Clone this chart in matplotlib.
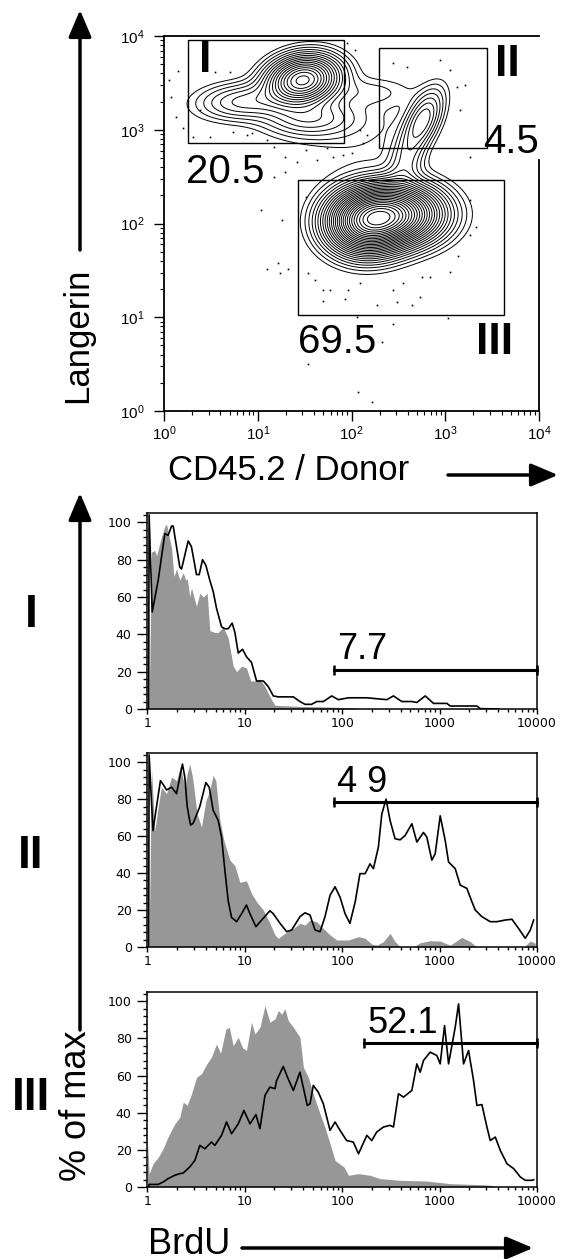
import numpy as np
import matplotlib
matplotlib.use('Agg')
import matplotlib.pyplot as plt
from matplotlib.patches import Rectangle, FancyArrowPatch
from matplotlib.ticker import FixedLocator, LogLocator, MultipleLocator, NullFormatter

W, H = 565, 1259

### Langerin / CD45.2 populations (log10 centre, log10 spread, correlation, weight)
pop_x   = [1.48, 0.85, 1.55, 2.76, 2.58, 2.45, 2.15, 2.00, 2.20]
pop_y   = [3.53, 3.30, 3.12, 3.10, 2.65, 2.10, 2.00, 3.00, 3.40]
pop_sx  = [0.22, 0.30, 0.30, 0.13, 0.12, 0.29, 0.24, 0.50, 0.30]
pop_sy  = [0.15, 0.12, 0.12, 0.20, 0.20, 0.18, 0.19, 0.35, 0.10]
pop_rho = [0.15, 0.10, 0.00, 0.55, 0.30, 0.00, 0.00, 0.00, 0.00]
pop_w   = [15.0, 3.0, 2.5, 2.5, 1.2, 38.0, 28.0, 2.0, 0.6]

### outlier events (CD45.2, Langerin)
dot_cd45 = [1.12, 1.41, 1.20, 1.35, 1.58, 2.04, 2.4, 3.1, 3.5, 5.0, 5.5, 7.6, 8.7,
            12.6, 14.8, 19.5, 26, 19.5, 14.8, 18.2, 10.7, 33, 43, 55, 63, 81, 102,
            132, 123, 145, 89, 110, 275, 390, 870, 1120, 1320, 1620, 1450, 1820,
            2140, 1820, 33, 12.6, 16.6, 17.4, 20.9, 34.7, 40.7, 50.1, 58.9, 50.1,
            85, 91, 123, 186, 275, 302, 355, 437, 537, 562, 692, 1120, 1380, 1820,
            115, 275, 1070, 214, 34.7, 117, 166]
dot_lang = [3390, 4270, 2240, 1380, 1050, 830, 1620, 830, 4170, 4170, 950, 870, 930,
            776, 660, 513, 457, 355, 316, 110, 138, 603, 479, 631, 513, 537, 562,
            724, 1000, 870, 8510, 7080, 5130, 4680, 5500, 4370, 2880, 3020, 1620,
            513, 91, 178, 190, 32.4, 38, 29.5, 32.4, 29.5, 25, 19.5, 19.5, 14.8,
            15.8, 19.5, 23.4, 13.5, 19.5, 14.5, 23.4, 13.5, 16.6, 26.9, 26.9, 30.2,
            44.7, 75.9, 10, 8.5, 9.8, 5.5, 3.2, 1.6, 1.26]

### gates: CD45.2 range, Langerin range, frequency
gate_name = ['I', 'II', 'III']
gate_x0 = [1.8, 196, 27]
gate_x1 = [83, 2800, 4240]
gate_y0 = [720, 640, 10.6]
gate_y1 = [9060, 7460, 290]
gate_pct = ['20.5', '4.5', '69.5']

### BrdU histograms (intensity, % of max); ctrl = grey filled, brdu = black line
h1_ctrl_x = [1.04, 1.10, 1.19, 1.24, 1.39, 1.51, 1.57, 1.63, 1.77, 1.87, 1.99, 2.15, 2.33,
             2.48, 2.56, 2.72, 2.83, 3.19, 3.45, 3.74, 4.11, 4.37, 4.92, 5.33, 6.00, 6.75,
             7.60, 8.23, 9.26, 10.4, 11.5, 12.7, 14.3, 16.1, 18.8, 20.4, 36.8, 81.2, 141, 147]
h1_ctrl_y = [0, 84, 85, 82, 92, 98, 99, 95, 86, 71, 75, 69, 73,
             69, 70, 60, 65, 55, 62, 60, 62, 42, 41, 41, 44, 38,
             23, 20, 23, 22, 15, 15, 16, 12, 5, 2, 1.4, 1, 0.5, 0]
h1_brdu_x = [1.03, 1.04, 1.12, 1.29, 1.51, 1.63, 1.77, 1.84, 2.15, 2.24, 2.62, 2.83, 3.19,
             3.40, 3.68, 3.98, 4.37, 4.73, 5.12, 5.77, 6.24, 6.75, 7.42, 7.91, 8.56, 9.48,
             10.4, 11.7, 13.2, 15.5, 17.4, 19.6, 22.1, 31.5, 36.8, 41.5, 48.5, 54.7, 64.0,
             78.0, 91.3, 116, 152, 179, 226, 287, 336, 409, 519, 584, 711, 866, 1188, 1285,
             2415, 2614, 4036]
h1_brdu_y = [0, 104, 52, 69, 94, 93, 98, 98, 76, 75, 90, 87, 72,
             72, 80, 77, 69, 63, 54, 44, 43, 43, 46, 41, 30, 32,
             28, 25, 15, 15, 12, 7, 6.5, 6.5, 4, 2.5, 2.5, 4, 4,
             7, 5, 6, 6, 6, 5.5, 5, 7, 4, 4, 3.5, 7, 3, 3, 1.6,
             1.6, 0.2, 0]

h2_ctrl_x = [1.04, 1.10, 1.19, 1.29, 1.39, 1.57, 1.77, 1.99, 2.18, 2.42, 2.56, 2.72, 2.90,
             3.24, 3.59, 3.98, 4.37, 4.73, 5.04, 5.54, 6.09, 7.02, 7.91, 8.90, 10.4, 11.7,
             13.2, 15.5, 18.1, 20.4, 22.1, 25.8, 31.5, 36.8, 41.5, 46.7, 54.7, 64.0, 75.0,
             87.8, 116, 147, 172, 201, 226, 265, 310, 349, 393, 540, 632, 800, 1014, 1285,
             1694, 2062, 2415, 7290, 8540, 9610]
h2_ctrl_y = [0, 97, 63, 76, 86.5, 83, 92, 90, 98, 86.5, 94, 99, 92,
             72, 65, 79, 85, 93, 90, 68.5, 57.7, 47, 44, 35, 35.8, 29,
             24.5, 20, 12.8, 6.5, 4.7, 7.4, 10, 12.8, 11.9, 14.6, 13.7, 10, 6.5,
             3.8, 3.8, 5.6, 4.7, 1.6, 1, 2.9, 7.4, 2.9, 0.2, 0, 2.3, 3.4, 3.2, 1,
             5.2, 2.9, 0, 0, 3.2, 2]
h2_brdu_x = [1.03, 1.04, 1.14, 1.24, 1.36, 1.45, 1.57, 1.77, 1.99, 2.29, 2.42, 2.56, 2.77,
             2.95, 3.45, 3.98, 4.31, 4.73, 5.33, 5.77, 6.24, 6.75, 7.31, 8.23, 9.26, 10.4,
             11.3, 13.0, 14.9, 18.1, 19.6, 23.0, 26.9, 30.3, 36.8, 41.5, 46.7, 52.6, 59.2,
             66.6, 75.0, 84.4, 95.0, 107, 120, 136, 152, 172, 193, 209, 235, 255, 282, 310,
             349, 393, 443, 519, 584, 683, 739, 832, 901, 1014, 1141, 1236, 1446, 1628, 1906,
             2146, 2322, 2718, 3311, 3878, 4723, 5530, 6475, 7580, 8540, 9240]
h2_brdu_y = [0, 104, 63, 76, 90, 88, 85, 86.5, 83, 99, 92, 76, 66,
             67, 76, 89, 86.5, 74, 68.5, 59.5, 41.5, 25, 16, 13.7, 18, 22.7,
             18, 11, 14.6, 19.6, 18, 12.8, 8.3, 9.2, 16.4, 18.5, 17.3, 9.2, 8.3,
             16.4, 28, 32.6, 27, 18, 12.8, 24.5, 39.7, 39.7, 45, 42.4, 54, 72, 80, 68.5,
             58.6, 58, 60.4, 66.7, 56.8, 62, 59.5, 47, 50.5, 71, 57.7, 46, 42.4, 33.5, 31.7,
             24.5, 20, 16.4, 13.7, 13.7, 14.6, 15, 10, 4.7, 9.2, 14.6]

h3_ctrl_x = [1.00, 1.04, 1.14, 1.29, 1.45, 1.63, 1.91, 2.15, 2.33, 2.56, 2.83, 3.19, 3.59,
             4.04, 4.55, 5.12, 5.63, 6.39, 6.92, 7.60, 8.56, 9.48, 10.4, 11.7, 12.7, 14.3,
             16.1, 18.1, 20.4, 22.1, 23.9, 25.8, 27.9, 31.5, 36.8, 39.9, 44.9, 50.5, 59.2,
             66.6, 75.0, 84.4, 104, 116, 147, 193, 245, 393, 739, 1285, 2830, 3446, 3584]
h3_ctrl_y = [25, 7, 12.5, 16, 20.6, 27, 34, 37.6, 45.7, 44, 50, 59, 61,
             66, 70, 77, 72, 85, 86, 76, 80.6, 75, 73.5, 88.7, 82.4, 86,
             97.7, 88.7, 90.5, 95, 93, 96, 89.6, 86, 80.6, 64.5, 59, 50, 39.4,
             32, 23.3, 14.3, 10.8, 6.3, 7.2, 6.3, 4.5, 3.6, 3.2, 1.8, 1.2, 0.9, 0]
h3_brdu_x = [1.03, 1.04, 1.29, 1.45, 1.63, 1.91, 2.15, 2.33, 2.72, 3.07, 3.45, 3.89, 4.55,
             4.92, 5.77, 6.49, 7.31, 8.56, 9.79, 11.3, 13.0, 14.3, 16.1, 18.1, 20.4, 21.2,
             24.8, 27.9, 31.5, 36.8, 43.8, 46.7, 50.5, 56.9, 64.0, 75.0, 84.4, 95.0, 111,
             130, 147, 179, 201, 226, 265, 310, 336, 378, 426, 519, 584, 632, 683, 800, 937,
             1014, 1124, 1236, 1446, 1565, 1762, 1983, 2232, 2415, 2718, 3061, 3311, 3730,
             4198, 4918, 5754, 6742, 7580, 8890, 9240]
h3_brdu_y = [0, 1.4, 1.4, 2.7, 4.5, 6.3, 7.2, 7.5, 10.8, 14.3, 22.4, 20.6, 24.2,
             22.4, 27.8, 35, 28.7, 34, 41.2, 34, 39, 31.4, 49.3, 53.8, 52.9, 57.3,
             64.9, 58.2, 52, 61.8, 43.9, 44.8, 54.7, 51, 44.8, 30.5, 35, 30.5, 25,
             24.2, 17.9, 27.8, 25, 29.6, 32.3, 33.2, 32.3, 50.2, 48.4, 52, 66.3, 61.8, 68.1,
             72.6, 70.8, 66.3, 86.9, 66.3, 86, 98.6, 66.3, 73.5, 57.3, 43.9, 44.4, 32.3, 25,
             26.9, 19.7, 12.5, 9.9, 5.4, 3.6, 3.6, 3.9]

hist_ctrl_x = [h1_ctrl_x, h2_ctrl_x, h3_ctrl_x]
hist_ctrl_y = [h1_ctrl_y, h2_ctrl_y, h3_ctrl_y]
hist_brdu_x = [h1_brdu_x, h2_brdu_x, h3_brdu_x]
hist_brdu_y = [h1_brdu_y, h2_brdu_y, h3_brdu_y]

### BrdU+ marker gates
bar_lo = [82, 82, 167]
bar_hi = [10000, 10000, 10000]
bar_y = [21, 78.4, 77.4]
bar_pct = ['7.7', '4 9', '52.1']

plt.rcParams['font.family'] = ['Liberation Sans', 'DejaVu Sans']
plt.rcParams['mathtext.fontset'] = 'custom'
plt.rcParams['mathtext.rm'] = 'Liberation Sans'
plt.rcParams['mathtext.it'] = 'Liberation Sans:italic'
plt.rcParams['mathtext.bf'] = 'Liberation Sans:bold'

def fig_xy(px, py):
    return (px / W, 1 - py / H)

def fig_rect(left, top, right, bottom):
    return [left / W, 1 - bottom / H, (right - left) / W, (bottom - top) / H]

fig = plt.figure(figsize=(W / 100, H / 100), dpi=100)

########################
### CONTOUR PLOT     ###
########################
ax = fig.add_axes(fig_rect(164, 36, 539, 411))
ax.set_xscale('log')
ax.set_yscale('log')
ax.set_xlim(1, 1e4)
ax.set_ylim(1, 1e4)

gx = np.linspace(0, 4, 401)
GX, GY = np.meshgrid(gx, gx)
dens = np.zeros_like(GX)
for mx, my, sx, sy, r, w in zip(pop_x, pop_y, pop_sx, pop_sy, pop_rho, pop_w):
    dx = (GX - mx) / sx
    dy = (GY - my) / sy
    q = (dx * dx - 2 * r * dx * dy + dy * dy) / (1 - r * r)
    dens += w / (2 * np.pi * sx * sy * np.sqrt(1 - r * r)) * np.exp(-q / 2)
levels = np.linspace(np.sqrt(0.01 * dens.max()), np.sqrt(dens.max()), 28)[:-1] ** 2
ax.contour(10 ** GX, 10 ** GY, dens, levels=levels, colors='k', linewidths=0.7)
ax.plot(dot_cd45, dot_lang, 's', color='k', ms=1.2, mew=0)

for x0, x1, y0, y1 in zip(gate_x0, gate_x1, gate_y0, gate_y1):
    ax.add_patch(Rectangle((x0, y0), x1 - x0, y1 - y0, fill=False, ec='k', lw=1.0, zorder=3))

ax.tick_params(which='major', direction='out', length=7, width=1, labelsize=11)
ax.tick_params(which='minor', direction='out', length=3, width=0.8)
ax.tick_params(axis='x', which='major', pad=3)
ax.tick_params(axis='y', which='major', pad=7)
for a in (ax.xaxis, ax.yaxis):
    a.set_major_locator(LogLocator(base=10, numticks=10))
    a.set_minor_locator(LogLocator(base=10, subs=np.arange(2, 10), numticks=10))
    a.set_minor_formatter(NullFormatter())
for s in ax.spines.values():
    s.set_linewidth(1.3)
ax.spines['right'].set_bounds(1, 480)

fig.text(*fig_xy(225, 172), gate_pct[0], fontsize=29, ha='center', va='center')
fig.text(*fig_xy(511, 142), gate_pct[1], fontsize=29, ha='center', va='center')
fig.text(*fig_xy(337, 342), gate_pct[2], fontsize=29, ha='center', va='center')
fig.text(*fig_xy(205, 61), gate_name[0], fontsize=32, fontweight='bold', ha='center', va='center')
fig.text(*fig_xy(507, 65), gate_name[1], fontsize=32, fontweight='bold', ha='center', va='center')
fig.text(*fig_xy(495, 342), gate_name[2], fontsize=32, fontweight='bold', ha='center', va='center')

########################
### HISTOGRAMS       ###
########################
hist_box = [(513, 709), (753, 947), (992, 1187)]
label_y = [615, 856, 1098]
for i in range(3):
    top, bottom = hist_box[i]
    hx = fig.add_axes(fig_rect(147, top, 537, bottom))
    hx.set_xscale('log')
    hx.set_xlim(0.99, 1e4)
    hx.set_ylim(0, 105)
    hx.fill_between(hist_ctrl_x[i], hist_ctrl_y[i], 0, color='#979797', lw=0)
    hx.plot(hist_brdu_x[i], hist_brdu_y[i], color='k', lw=1.2)
    hx.plot([bar_lo[i], bar_hi[i]], [bar_y[i], bar_y[i]], color='k', lw=2.2,
            marker='|', ms=7, mew=1.8, clip_on=False)
    hx.annotate(bar_pct[i], (bar_lo[i], bar_y[i]), xytext=(2.5, 7.5), textcoords='offset points',
                fontsize=26, ha='left', va='baseline')
    hx.xaxis.set_major_locator(FixedLocator([1, 10, 100, 1000, 10000]))
    hx.set_xticklabels(['1', '10', '100', '1000', '10000'])
    hx.xaxis.set_minor_locator(LogLocator(base=10, subs=np.arange(2, 10), numticks=10))
    hx.xaxis.set_minor_formatter(NullFormatter())
    hx.yaxis.set_major_locator(MultipleLocator(20))
    hx.yaxis.set_minor_locator(MultipleLocator(4))
    hx.set_yticks([0, 20, 40, 60, 80, 100])
    hx.tick_params(which='both', direction='out', width=1, labelsize=9)
    hx.tick_params(axis='x', which='major', length=3.5, pad=2)
    hx.tick_params(axis='x', which='minor', length=2)
    hx.tick_params(axis='y', which='major', length=7, pad=4)
    hx.tick_params(axis='y', which='minor', length=3)
    for lab in hx.get_xticklabels() + hx.get_yticklabels():
        lab.set_family('DejaVu Sans')
    for s in hx.spines.values():
        s.set_linewidth(1.1)
    fig.text(*fig_xy(31, label_y[i]), gate_name[i], fontsize=33, fontweight='bold',
             ha='center', va='center')

########################
### AXIS LABELS      ###
########################
def arrow(p0, p1):
    fig.add_artist(FancyArrowPatch(fig_xy(*p0), fig_xy(*p1), transform=fig.transFigure,
                                   arrowstyle='-|>,head_length=1.65,head_width=0.7',
                                   mutation_scale=10, lw=2.5, color='k',
                                   shrinkA=0, shrinkB=0))

arrow((80, 250), (80, 10))
fig.text(*fig_xy(78, 335), 'Langerin', fontsize=25, rotation=90, ha='center', va='center')
arrow((448, 475), (558, 475))
fig.text(*fig_xy(168, 470), 'CD45.2 / Donor', fontsize=25, ha='left', va='center')
arrow((80, 1030), (80, 493))
fig.text(*fig_xy(76, 1106), '% of max', fontsize=26, rotation=90, ha='center', va='center')
arrow((242, 1248), (533, 1248))
fig.text(*fig_xy(148, 1244), 'BrdU', fontsize=26, ha='left', va='center')

fig.savefig('out.png', dpi=100)
